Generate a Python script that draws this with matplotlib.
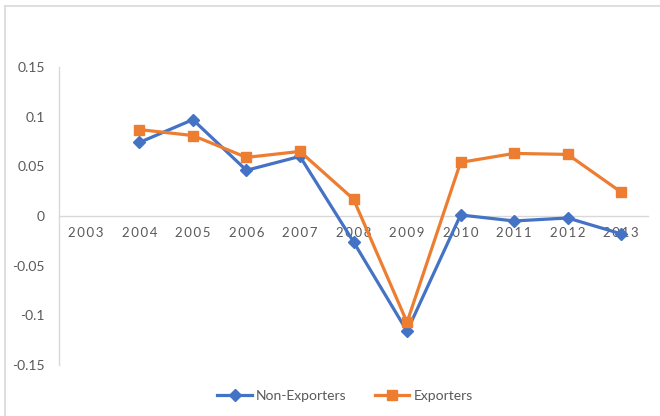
import matplotlib
matplotlib.use("Agg")
import matplotlib.pyplot as plt
from matplotlib.lines import Line2D

years = ["2003", "2004", "2005", "2006", "2007", "2008", "2009", "2010", "2011", "2012", "2013"]
non_exporters = [None, 0.074, 0.097, 0.046, 0.060, -0.026, -0.116, 0.001, -0.005, -0.002, -0.018]
exporters = [None, 0.087, 0.081, 0.059, 0.065, 0.017, -0.107, 0.054, 0.063, 0.062, 0.024]
yticks = [-0.15, -0.1, -0.05, 0, 0.05, 0.1, 0.15]
ytick_labels = ["-0.15", "-0.1", "-0.05", "0", "0.05", "0.1", "0.15"]

plt.rcParams['font.family'] = ['Lato', 'DejaVu Sans']

W, H = 660, 416
fig = plt.figure(figsize=(W / 100, H / 100), dpi=100)

# chart border (top + left)
fig.add_artist(Line2D([5 / W, 5 / W], [0, 1 - 6 / H], color="#d9d9d9", lw=1.2, transform=fig.transFigure))
fig.add_artist(Line2D([5 / W, 1], [1 - 6 / H, 1 - 6 / H], color="#d9d9d9", lw=1.2, transform=fig.transFigure))

left, right = 59 / W, 648 / W
top, bottom = 1 - 67 / H, 1 - 365 / H
ax = fig.add_axes([left, bottom, right - left, top - bottom])

x = list(range(len(years)))
xs_n = [i for i, v in zip(x, non_exporters) if v is not None]
vs_n = [v for v in non_exporters if v is not None]
xs_e = [i for i, v in zip(x, exporters) if v is not None]
vs_e = [v for v in exporters if v is not None]

blue = "#4472C4"
orange = "#ED7D31"
ax.plot(xs_n, vs_n, color=blue, lw=2.3, marker="D", markersize=6, label="Non-Exporters", zorder=3)
ax.plot(xs_e, vs_e, color=orange, lw=2.3, marker="s", markersize=7.5, label="Exporters", zorder=3)

ax.set_xlim(-0.5, len(years) - 0.5)
ax.set_ylim(-0.15, 0.15)
ax.set_yticks(yticks)
ax.set_yticklabels(ytick_labels)
ax.tick_params(axis="y", length=0, pad=10, labelsize=10, labelcolor="#595959")

for s in ["top", "right"]:
    ax.spines[s].set_visible(False)
ax.spines["left"].set_color("#d9d9d9")
ax.spines["bottom"].set_position(("data", 0))
ax.spines["bottom"].set_color("#d9d9d9")
ax.spines["bottom"].set_linewidth(1.0)
ax.spines["left"].set_linewidth(1.0)

ax.set_xticks(x)
ax.set_xticklabels(["\u2009".join(list(y)) for y in years])
ax.tick_params(axis="x", length=0, pad=8, labelsize=9.5, labelcolor="#595959")
for lbl in ax.get_xticklabels():
    lbl.set_zorder(1)

leg = fig.legend(loc="center", bbox_to_anchor=(345 / W, 1 - 396 / H), ncol=2, frameon=False,
                 fontsize=10, handlelength=2.5, columnspacing=2.0, handletextpad=0.3)
for t in leg.get_texts():
    t.set_color("#595959")

fig.savefig("out.png", dpi=100)
